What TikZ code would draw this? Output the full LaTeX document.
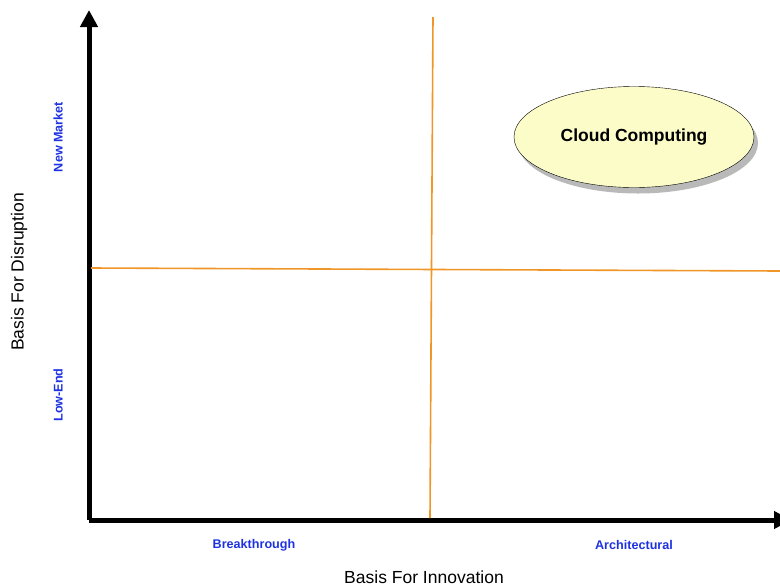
\documentclass[tikz,border=0pt]{standalone}
\usepackage{fontspec}
\setmainfont{Liberation Sans}
\usetikzlibrary{arrows.meta,shapes.geometric,shadows}
\definecolor{quadline}{RGB}{240,150,40}
\definecolor{labelblue}{RGB}{30,50,225}
\definecolor{cloudfill}{RGB}{252,252,200}
\begin{document}
\begin{tikzpicture}[x=1pt,y=-1pt,
  axis/.style={line width=5pt,-{Triangle[length=17pt,width=17pt]}},
  quad/.style={quadline,line width=1.6pt}
]

\tikzstyle{level}=[text=labelblue,font=\bfseries\fontsize{12.6}{14}\selectfont]
\tikzstyle{title}=[font=\fontsize{17.5}{20}\selectfont]
\tikzstyle{bubble}=[ellipse,draw,thin,fill=cloudfill,minimum width=240pt,minimum height=101pt,
  drop shadow={shadow xshift=4pt,shadow yshift=-6pt,opacity=0.55}]

\useasboundingbox (0,0) rectangle (780,587);

% axes
\coordinate (origin) at (89,520);
\coordinate (ytop) at (89,10);
\coordinate (xend) at (791,520);
\draw[axis] (origin) -- (ytop);
\draw[axis] (origin) -- (xend);

% quadrant lines
\coordinate (hleft) at (91,268);
\coordinate (hright) at (780,271);
\coordinate (vtop) at (433,17);
\coordinate (vbottom) at (430,518);
\draw[quad] (hleft) -- (hright);
\draw[quad] (vtop) -- (vbottom);

\node[bubble] (cloud) at (634,137) {};
\node[font=\bfseries\fontsize{17.5}{20}\selectfont] (cloudtext) at (cloud.center) {Cloud Computing};

\node[level,rotate=90] (newmarket) at (58,137) {New Market};
\node[level,rotate=90] (lowend) at (58,395) {Low-End};
\node[level] (breakthrough) at (254,545) {Breakthrough};
\node[level] (architectural) at (634,545) {Architectural};

\node[title] (innovation) at (424,577) {Basis For Innovation};
\node[title,rotate=90] (disruption) at (19,272) {Basis For Disruption};
\end{tikzpicture}
\end{document}
